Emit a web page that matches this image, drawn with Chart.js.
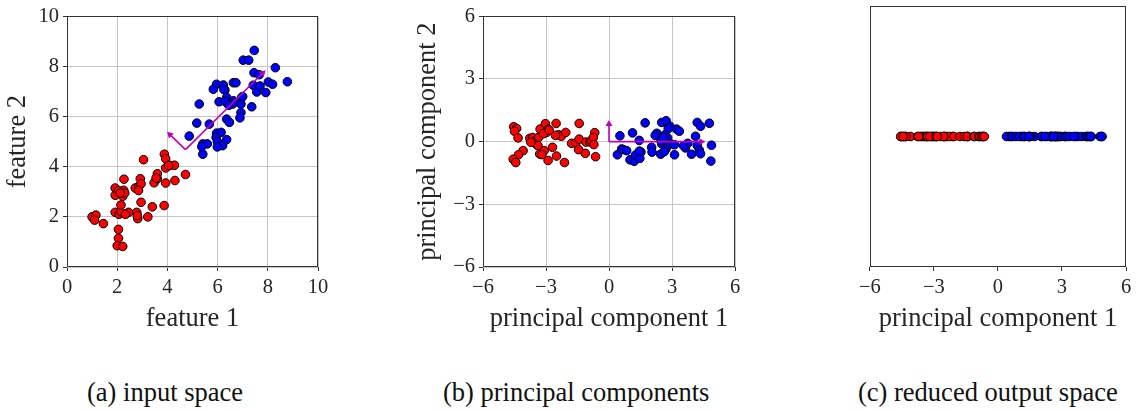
<!DOCTYPE html>
<html>
<head>
<meta charset="utf-8">
<script src="https://cdn.jsdelivr.net/npm/chart.js@4"></script>
<style>
  body { margin: 0; background: #fff; width: 1138px; height: 410px; position: relative; overflow: hidden; font-family: "Liberation Serif", "DejaVu Serif", serif; }
  canvas { position: absolute; top: 0; }
  .caption { position: absolute; top: 377px; font-size: 26.5px; line-height: 31px; color: #111; white-space: nowrap; }
</style>
</head>
<body>
<canvas id="chartA" width="335" height="345" style="left:0px"></canvas>
<canvas id="chartB" width="350" height="345" style="left:400px"></canvas>
<canvas id="chartC" width="283" height="345" style="left:855px"></canvas>
<div class="caption" style="left:87px">(a) input space</div>
<div class="caption" style="left:443px">(b) principal components</div>
<div class="caption" style="left:858px">(c) reduced output space</div>

<script>
// feature 1 / feature 2
const redFeatures = [
  [1.00, 2.00], [1.15, 2.07], [1.10, 1.87], [1.45, 1.73],
  [2.05, 1.50], [2.05, 1.15], [2.00, 0.85], [2.22, 0.82],
  [1.92, 2.18], [2.07, 2.10], [2.15, 2.20], [2.45, 2.18], [2.33, 2.10], [2.78, 2.18], [2.82, 1.93], [3.22, 2.00], [2.80, 2.05],
  [2.15, 2.47], [2.95, 2.58], [3.40, 2.40], [3.87, 2.45],
  [1.92, 2.86], [1.92, 3.15], [2.22, 2.82], [2.26, 3.06], [2.30, 2.95], [2.27, 3.50], [2.05, 3.05],
  [2.72, 3.15], [2.87, 3.23], [2.92, 3.52], [2.95, 3.32], [2.85, 3.05],
  [3.05, 4.28], [3.47, 3.36], [3.60, 3.72], [3.60, 3.52], [3.93, 3.35], [4.30, 3.45], [4.72, 3.69],
  [3.88, 4.50], [3.93, 4.32], [4.10, 4.05], [4.28, 4.06], [3.93, 3.95], [4.05, 4.05],
  [2.12, 2.95], [3.55, 3.55]
]
const blueFeatures = [
  [7.46, 8.64], [7.02, 8.25], [7.24, 8.25], [7.45, 7.75], [7.66, 7.67], [8.30, 7.95], [8.78, 7.39],
  [8.02, 7.38], [8.19, 7.29], [7.92, 6.96], [7.56, 6.98], [7.42, 7.25], [7.69, 7.22], [7.36, 6.39],
  [6.63, 7.35], [6.73, 7.35], [5.96, 7.29], [6.23, 7.26], [5.83, 7.09], [6.29, 7.06], [6.36, 6.76],
  [6.06, 6.59], [6.36, 6.56], [6.63, 6.63], [6.96, 6.76], [6.93, 6.50], [5.27, 6.50], [6.93, 6.16],
  [6.89, 5.95], [6.36, 5.90], [6.47, 5.77], [5.17, 5.74], [5.67, 5.70], [4.87, 5.22], [5.96, 5.34],
  [6.14, 5.37], [5.94, 5.17], [6.36, 5.08], [5.99, 5.00], [6.20, 4.84], [5.99, 4.79], [5.41, 4.91],
  [5.59, 4.91], [5.41, 4.50], [5.37, 4.80],
  [6.60, 6.50], [6.30, 6.60], [7.00, 6.80], [6.45, 6.45], [6.25, 7.08]
]

// principal component 1 / principal component 2
const redComponents = [
  [-4.54, 0.71], [-4.40, 0.63], [-4.50, 0.50], [-4.33, 0.18], [-4.09, -0.43], [-4.31, -0.63], [-4.56, -0.84], [-4.44, -1.00],
  [-3.77, 0.16], [-3.63, 0.20], [-3.54, 0.02], [-3.45, -0.14], [-3.35, 0.21], [-3.28, 0.60], [-3.03, 0.86], [-2.90, 0.60],
  [-2.98, 0.44], [-3.12, 0.38],
  [-3.38, -0.19], [-3.30, -0.59], [-3.09, -0.43], [-3.20, -0.62], [-2.69, -0.27], [-2.90, -0.90], [-2.50, -0.69], [-2.12, -1.00],
  [-2.52, 0.87], [-2.40, 0.33], [-2.27, 0.26], [-2.06, 0.44], [-2.55, 0.30],
  [-1.42, 0.87], [-1.78, -0.08], [-1.58, -0.06], [-1.42, 0.12], [-1.45, -0.38], [-1.13, -0.56], [-1.10, -0.02],
  [-0.90, -0.02], [-0.85, 0.05], [-0.68, 0.43], [-0.75, 0.20], [-0.72, -0.14], [-0.64, -0.72],
  [-3.72, -0.03], [-2.85, 0.55]
]
const blueComponents = [
  [0.52, 0.28], [0.40, -0.63], [0.60, -0.35], [0.68, -0.38], [0.84, -0.43], [1.12, 0.42], [1.72, 0.90],
  [1.44, 0.06], [1.00, -0.87], [1.20, -0.94], [1.26, -0.64], [1.52, -0.50], [1.47, -0.80], [1.45, -0.45],
  [2.03, -0.27], [2.05, -0.50], [2.28, 0.40], [2.51, 0.92], [2.72, 1.00], [2.90, 0.74], [2.82, 0.62],
  [2.67, 0.33], [2.79, 0.18], [2.51, -0.11], [2.71, -0.35], [2.46, -0.60], [2.63, -0.48], [2.46, 0.05], [2.95, -0.11],
  [3.12, -0.15], [3.12, -0.63], [3.22, 0.60], [3.35, 0.50], [3.64, -0.30], [3.75, -0.08], [3.93, -0.60],
  [4.12, 0.26], [4.20, 0.92], [4.36, 0.74], [4.78, 0.88], [4.88, -0.17], [4.85, -0.93], [4.20, -0.18],
  [4.30, -0.40], [4.36, -0.58], [3.55, -0.20], [2.20, 0.30], [2.60, 0.20]
]

// direction arrows: [start, end]
const featureArrow1 = [[4.72, 4.68], [7.80, 7.74]]
const featureArrow2 = [[4.72, 4.68], [4.10, 5.28]]
const componentArrow1 = [[0, 0], [4.40, 0]]
const componentArrow2 = [[0, 0], [0, 0.84]]

const featureTicks = [0, 2, 4, 6, 8, 10]
const componentTicks = [-6, -3, 0, 3, 6]

const serif = '"Liberation Serif", "DejaVu Serif", serif'
const ink = '#262626'
const gridColor = '#c6c6c6'
const arrowColor = '#bf00bf'

const toPoints = (pairs) => pairs.map(([x, y]) => ({ x, y }))
const minus = (v) => v < 0 ? '\u2212' + Math.abs(v) : String(v)

// box around the plot area, like matplotlib spines
const frame = {
  id: 'frame',
  afterDatasetsDraw(chart) {
    const { ctx, chartArea } = chart
    ctx.save()
    ctx.strokeStyle = '#333'
    ctx.lineWidth = 1
    ctx.strokeRect(Math.round(chartArea.left) + 0.5, Math.round(chartArea.top) + 0.5,
      Math.round(chartArea.right - chartArea.left) - 1, Math.round(chartArea.bottom - chartArea.top) - 1)
    ctx.restore()
  }
}

function axis(ticks, title, opts) {
  const horizontal = opts.horizontal
  return {
    type: 'linear',
    display: opts.display !== false,
    min: ticks[0],
    max: ticks[ticks.length - 1],
    afterBuildTicks: (s) => { s.ticks = ticks.map((v) => ({ value: v })) },
    afterFit: (s) => { if (horizontal) s.height = opts.size; else s.width = opts.size },
    grid: { color: gridColor, lineWidth: 1, tickColor: '#333', tickLength: 4, drawOnChartArea: opts.grid !== false },
    border: { display: false },
    ticks: { color: ink, font: { family: serif, size: 20.5 }, padding: 4, autoSkip: false, maxRotation: 0, callback: minus },
    title: {
      display: !!title,
      text: title,
      color: ink,
      font: { family: serif, size: 26.5 },
      padding: horizontal ? { top: 0, bottom: 10 } : { top: opts.titlePad, bottom: 0 }
    }
  }
}

function points(pairs, color) {
  return {
    data: pairs,
    backgroundColor: color,
    borderColor: '#000',
    borderWidth: 1,
    pointRadius: 4.3,
    order: 2
  }
}

function arrow(segment, rotation) {
  return {
    data: toPoints(segment),
    showLine: true,
    borderColor: arrowColor,
    borderWidth: 1.6,
    pointStyle: 'triangle',
    pointRadius: [0, 4],
    pointRotation: [0, rotation],
    pointBackgroundColor: arrowColor,
    pointBorderColor: arrowColor,
    pointBorderWidth: 0,
    order: 1
  }
}

function draw(id, datasets, scales, padding) {
  new Chart(document.getElementById(id), {
    type: 'scatter',
    data: { datasets },
    options: {
      responsive: false,
      animation: false,
      events: [],
      layout: { padding },
      plugins: { legend: { display: false }, tooltip: { enabled: false } },
      scales
    },
    plugins: [frame]
  })
}

// (a) input space
draw('chartA', [
  arrow(featureArrow1, 45),
  arrow(featureArrow2, -45),
  points(toPoints(redFeatures), '#ff0000'),
  points(toPoints(blueFeatures), '#0000ff')
], {
  x: axis(featureTicks, 'feature 1', { horizontal: true, size: 78 }),
  y: axis(featureTicks, 'feature 2', { size: 67, titlePad: 2 })
}, { top: 15, right: 17, left: 0, bottom: 0 })

// (b) principal components
draw('chartB', [
  arrow(componentArrow1, 90),
  arrow(componentArrow2, 0),
  points(toPoints(redComponents), '#ff0000'),
  points(toPoints(blueComponents), '#0000ff')
], {
  x: axis(componentTicks, 'principal component 1', { horizontal: true, size: 78 }),
  y: axis(componentTicks, 'principal component 2', { size: 83, titlePad: 12 })
}, { top: 15, right: 15, left: 0, bottom: 0 })

// (c) reduced output space: only the first component is kept
draw('chartC', [
  points(redComponents.map(([x]) => ({ x, y: 0 })), '#ff0000'),
  points(blueComponents.map(([x]) => ({ x, y: 0 })), '#0000ff')
], {
  x: axis(componentTicks, 'principal component 1', { horizontal: true, size: 78, grid: false }),
  y: { type: 'linear', display: false, min: -1, max: 1 }
}, { top: 6, right: 12, left: 10, bottom: 0 })
</script>
</body>
</html>
